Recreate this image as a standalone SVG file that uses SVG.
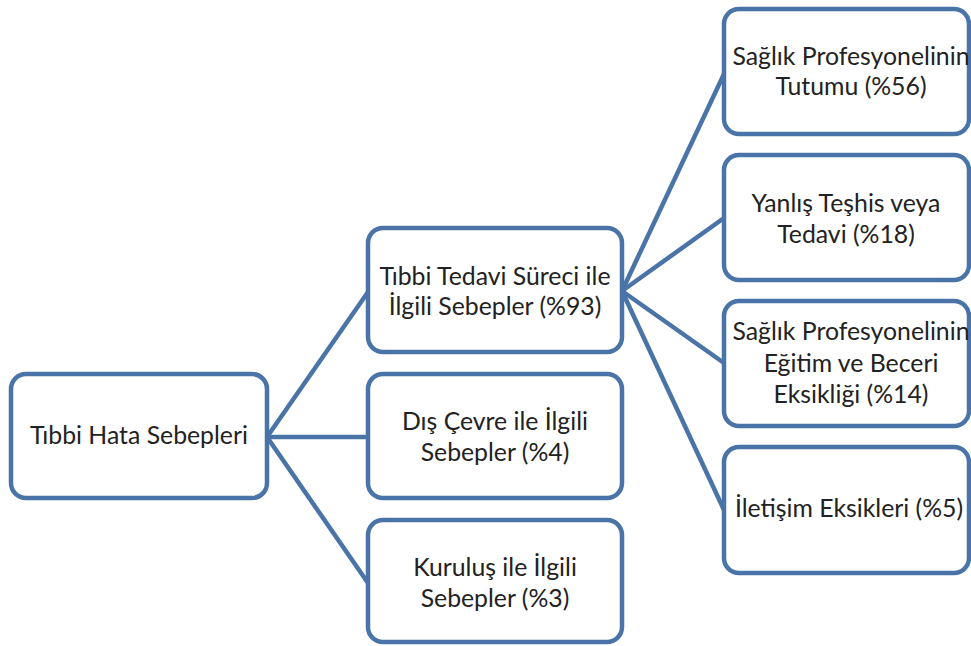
<svg xmlns="http://www.w3.org/2000/svg" width="971" height="646" viewBox="0 0 971 646">
<style>
.box{fill:#fff;stroke:#4a74a8;stroke-width:4.5}
.con{stroke:#4a74a8;stroke-width:4.5;fill:none;stroke-linecap:round}
text{font-family:Lato,"Open Sans","Noto Sans",sans-serif;font-size:24.8px;fill:#222;text-anchor:middle}
</style>
<rect width="971" height="646" fill="#fff"/>
<g id="connectors">
<line class="con" x1="267" y1="437" x2="368" y2="292"/>
<line class="con" x1="267" y1="437" x2="368" y2="437"/>
<line class="con" x1="267" y1="437" x2="368" y2="583"/>
<line class="con" x1="622" y1="291" x2="724" y2="74"/>
<line class="con" x1="622" y1="291" x2="724" y2="218"/>
<line class="con" x1="622" y1="291" x2="724" y2="363"/>
<line class="con" x1="622" y1="291" x2="724" y2="510"/>
</g>
<g id="root"><rect class="box" x="11" y="374" width="256" height="124" rx="15"/><text x="139" y="444">Tıbbi Hata Sebepleri</text></g>
<g id="m1"><rect class="box" x="368" y="228" width="254" height="124" rx="15"/><text x="495" y="285">Tıbbi Tedavi Süreci ile</text><text x="495" y="315">İlgili Sebepler (%93)</text></g>
<g id="m2"><rect class="box" x="368" y="374" width="254" height="124" rx="15"/><text x="495" y="430">Dış Çevre ile İlgili</text><text x="495" y="461">Sebepler (%4)</text></g>
<g id="m3"><rect class="box" x="368" y="520" width="254" height="122" rx="15"/><text x="495" y="576">Kuruluş ile İlgili</text><text x="495" y="607">Sebepler (%3)</text></g>
<g id="r1"><rect class="box" x="724" y="9" width="245" height="125" rx="15"/><text x="851" y="65">Sağlık Profesyonelinin</text><text x="851" y="95">Tutumu (%56)</text></g>
<g id="r2"><rect class="box" x="724" y="155" width="245" height="125" rx="15"/><text x="846" y="212">Yanlış Teşhis veya</text><text x="846" y="243">Tedavi (%18)</text></g>
<g id="r3"><rect class="box" x="724" y="301" width="245" height="125" rx="15"/><text x="851" y="340">Sağlık Profesyonelinin</text><text x="851" y="372">Eğitim ve Beceri</text><text x="851" y="403">Eksikliği (%14)</text></g>
<g id="r4"><rect class="box" x="724" y="447" width="245" height="126" rx="15"/><text x="849" y="517">İletişim Eksikleri (%5)</text></g>
</svg>
